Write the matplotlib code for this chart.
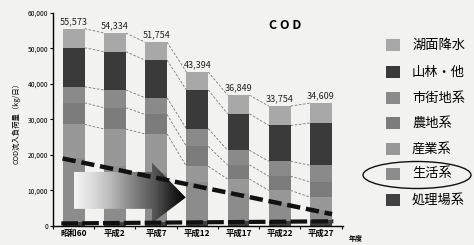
import matplotlib
matplotlib.use("Agg")
import matplotlib.pyplot as plt
import numpy as np
from matplotlib.patches import Polygon, Rectangle, Ellipse

plt.rcParams['font.family'] = ['Noto Sans CJK JP', 'DejaVu Sans']

years = ["昭和60", "平成2", "平成7", "平成12", "平成17", "平成22", "平成27"]
totals = ["55,573", "54,334", "51,754", "43,394", "36,849", "33,754", "34,609"]

# bottom to top
shori = [1000, 1100, 1200, 1300, 1400, 1500, 1600]
seikatsu = [18000, 15700, 13700, 11200, 7800, 4900, 2900]
sangyo = [9600, 10500, 11000, 4300, 4000, 3600, 3600]
nouchi = [6100, 6000, 5500, 5600, 4000, 4000, 4300]
shigai = [4500, 5000, 4700, 5000, 4100, 4200, 4700]
sanrin = [11000, 10800, 10600, 10900, 10300, 10100, 11900]
komen = [5373, 5234, 5054, 5094, 5249, 5454, 5609]

series = [shori, seikatsu, sangyo, nouchi, shigai, sanrin, komen]
labels = ["処理場系", "生活系", "産業系", "農地系", "市街地系", "山林・他", "湖面降水"]
colors = ["#404040", "#8c8c8c", "#989898", "#7c7c7c", "#8a8a8a", "#3a3a3a", "#a8a8a8"]

bg = "#f2f2f0"
fig = plt.figure(figsize=(4.74, 2.45), dpi=100, facecolor=bg)
ax = fig.add_axes([0.112, 0.078, 0.612, 0.869])
ax.set_facecolor(bg)

x = np.arange(len(years))
w = 0.53
bottom = np.zeros(len(years))
tops = []
for vals, c in zip(series, colors):
    ax.bar(x, vals, w, bottom=bottom, color=c, edgecolor="none", zorder=2)
    bottom = bottom + np.array(vals)
    tops.append(bottom.copy())

# dashed connectors between bars
for t in tops[2:]:
    for i in range(len(x) - 1):
        ax.plot([x[i] + w / 2, x[i + 1] - w / 2], [t[i], t[i + 1]],
                color="#777777", lw=0.6, ls=(0, (3, 2)), zorder=1)

for i, s in enumerate(totals):
    ax.text(x[i], tops[-1][i] + 700, s, ha="center", va="bottom",
            fontsize=6.5, color="#222222", zorder=5)

# big gradient arrow
arrow = Polygon([(0, 4800), (1.9, 4800), (1.9, 800), (2.72, 8000),
                 (1.9, 17800), (1.9, 15200), (0, 15200)],
                closed=True, facecolor="none", edgecolor="none", zorder=3)
ax.add_patch(arrow)
grad = np.linspace(0, 1, 256).reshape(1, -1)
im = ax.imshow(grad, extent=[0, 2.72, 800, 17800], aspect="auto",
               cmap="Greys", vmin=-0.1, vmax=1.0, zorder=3)
im.set_clip_path(arrow)

# thick dashed trend lines
ax.plot([-0.27, 6.27], [19000, 3300], color="#111111", lw=3.2,
        ls=(0, (3, 1.3)), zorder=4)
ax.plot([-0.3, 6.3], [700, 1300], color="#111111", lw=3.0,
        ls=(0, (4, 1)), zorder=4)

ax.set_xlim(-0.48, 6.54)
ax.set_ylim(0, 60000)
ax.set_yticks(np.arange(0, 60001, 10000))
ax.set_yticklabels([f"{v:,}" for v in range(0, 60001, 10000)], fontsize=4.8)
ax.set_xticks(x)
ax.set_xticklabels(years, fontsize=6, fontweight="bold")
ax.tick_params(axis="x", length=0, pad=2)
ax.set_xticks(np.arange(-0.5, 6.6, 1), minor=True)
ax.tick_params(axis="x", which="minor", length=2.5, width=0.8)
ax.tick_params(axis="y", length=2.5, width=0.8, pad=1)
for side in ["top", "right"]:
    ax.spines[side].set_visible(False)
for side in ["left", "bottom"]:
    ax.spines[side].set_linewidth(1.0)

fig.text(16 / 474, 1 - 122 / 245, "COD流入負荷量（kg/日）", rotation=90,
         fontsize=5.3, ha="center", va="center")
ax.text(0.8, 0.94, "C O D", transform=ax.transAxes, fontsize=9,
        fontweight="bold", ha="center", va="center")
fig.text(0.75, 0.025, "年度", fontsize=5, ha="center", va="center",
         fontweight="bold")

# legend
leg_y = [45, 72, 98, 123, 149, 174, 200]
for lab, c, yp in zip(labels[::-1], colors[::-1], leg_y):
    fig.patches.append(Rectangle((386 / 474, 1 - (yp + 6) / 245), 14 / 474, 12 / 245,
                                 transform=fig.transFigure, facecolor=c,
                                 edgecolor="none"))
    fig.text(412 / 474, 1 - yp / 245, lab, fontsize=9.5, va="center", ha="left")

fig.patches.append(Ellipse((417 / 474, 1 - 175 / 245), 108 / 474, 27 / 245,
                           transform=fig.transFigure, facecolor="none",
                           edgecolor="#111111", lw=1.0))

fig.savefig("out.png", dpi=100, facecolor=bg)
